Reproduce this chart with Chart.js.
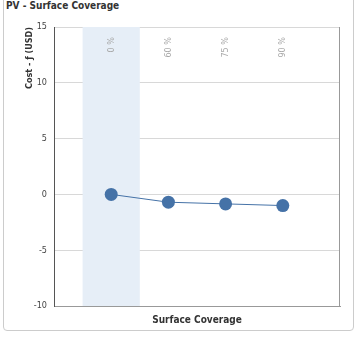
<!DOCTYPE html>
<html>
<head>
<meta charset="utf-8">
<script src="https://cdn.jsdelivr.net/npm/chart.js@4"></script>
<style>
  html, body { margin: 0; padding: 0; background: #fff; }
  #wrap { position: relative; width: 358px; height: 349px; overflow: hidden; }
  #card {
    position: absolute; left: 3px; top: -6px; width: 351px; height: 337px;
    border: 1px solid #ccc; border-radius: 4px; box-sizing: border-box;
  }
  #title {
    position: absolute; left: 6px; top: 0px;
    font: bold 10px "Liberation Sans Narrow", "DejaVu Sans Condensed", sans-serif;
    color: #333;
  }
  #box { position: absolute; left: 0; top: 0; width: 358px; height: 349px; }
</style>
</head>
<body>
<div id="wrap">
  <div id="card"></div>
  <div id="title">PV - Surface Coverage</div>
  <div id="box"><canvas id="chart"></canvas></div>
</div>
<script>
/*  Data  */

const categories = ["0 %", "60 %", "75 %", "90 %"];
const costValues = [0, -0.7, -0.85, -1.0];
const yTicks = [-10, -5, 0, 5, 10, 15];

const FONT = '"Liberation Sans Narrow", "DejaVu Sans Condensed", sans-serif';
const BLUE = "#4572A7";

/*  Plugins  */

// highlighted band on first category + category labels inside plot
const bandPlugin = {
    id: "band",
    beforeDatasetsDraw(chart) {
        const { ctx, chartArea, scales } = chart;
        const x = scales.x;
        const x0 = x.getPixelForValue(-0.5);
        const x1 = x.getPixelForValue(0.5);
        ctx.save();
        ctx.fillStyle = "#e6eef7";
        ctx.fillRect(x0, chartArea.top, x1 - x0, chartArea.bottom - chartArea.top);

        ctx.fillStyle = "#a8a8a8";
        ctx.font = "9px " + FONT;
        ctx.textAlign = "right";
        ctx.textBaseline = "middle";
        categories.forEach((c, i) => {
            ctx.save();
            ctx.translate(x.getPixelForValue(i), chartArea.top + 10);
            ctx.rotate(-Math.PI / 2);
            ctx.fillText(c, 0, 0);
            ctx.restore();
        });

        // right border of the plot
        ctx.strokeStyle = "#999";
        ctx.lineWidth = 1;
        ctx.beginPath();
        ctx.moveTo(Math.round(chartArea.right) - 0.5, chartArea.top);
        ctx.lineTo(Math.round(chartArea.right) - 0.5, chartArea.bottom);
        ctx.stroke();
        ctx.restore();
    }
};

/*  Chart  */

const ctx = document.getElementById("chart").getContext("2d");

new Chart(ctx, {
    type: "line",
    data: {
        datasets: [{
            data: costValues.map((v, i) => ({ x: i, y: v })),
            borderColor: BLUE,
            backgroundColor: BLUE,
            borderWidth: 1,
            pointRadius: 6.5,
            pointHoverRadius: 6.5,
            pointBorderWidth: 0,
            tension: 0
        }]
    },
    options: {
        responsive: true,
        maintainAspectRatio: false,
        animation: false,
        layout: { padding: { top: 27, right: 18, left: 20, bottom: 14 } },
        plugins: {
            legend: { display: false },
            tooltip: { enabled: false }
        },
        scales: {
            x: {
                type: "linear",
                min: -1,
                max: 4,
                grid: { display: false },
                border: { color: "#999" },
                ticks: { display: false },
                title: {
                    display: true,
                    text: "Surface Coverage",
                    color: "#333",
                    font: { family: FONT, size: 10, weight: "bold" },
                    padding: { top: 2, bottom: 9 }
                },
                afterFit: s => { s.height = 29; }
            },
            y: {
                min: -10,
                max: 15,
                afterBuildTicks: s => { s.ticks = yTicks.map(v => ({ value: v })); },
                grid: { color: "#d8d8d8", drawTicks: false },
                border: { color: "#555" },
                ticks: {
                    color: "#444",
                    font: { family: FONT, size: 9 },
                    padding: 7
                },
                title: {
                    display: true,
                    text: "Cost - ƒ (USD)",
                    align: "end",
                    color: "#333",
                    font: { family: FONT, size: 9, weight: "bold" },
                    padding: { bottom: 6 }
                },
                afterFit: s => { s.width = 34; }
            }
        }
    },
    plugins: [bandPlugin]
});
</script>
</body>
</html>
